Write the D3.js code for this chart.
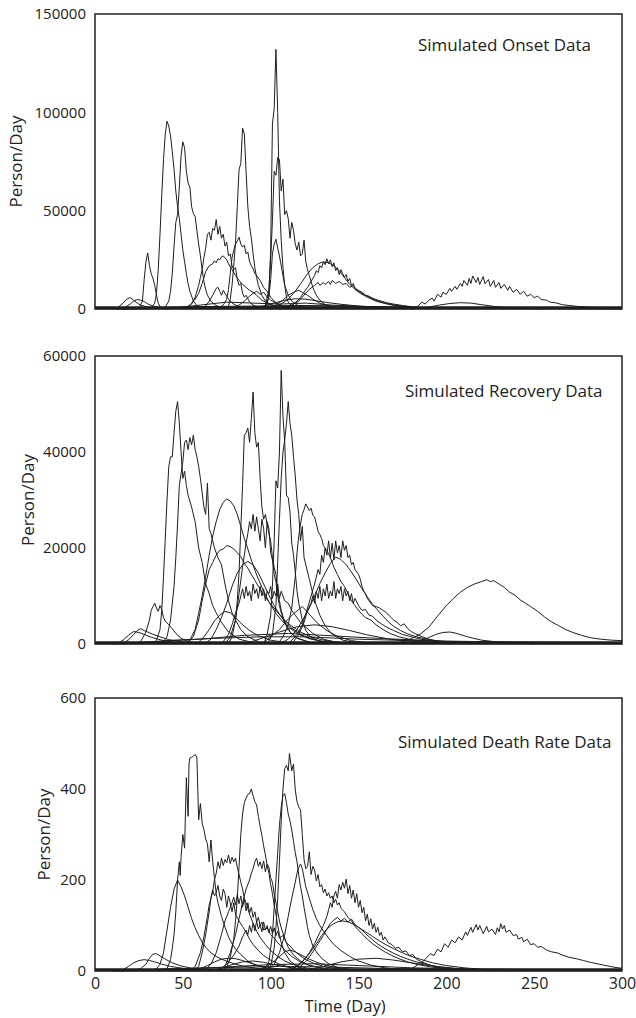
<!DOCTYPE html>
<html>
<head>
<meta charset="utf-8">
<script src="https://cdn.jsdelivr.net/npm/d3@7"></script>
<style>
  body { margin: 0; background: #fff; }
  svg { display: block; }
  text { font-family: "Open Sans", "Noto Sans", sans-serif; fill: #222; }
</style>
</head>
<body>
<div id="chart"></div>
<script>
// ---- data: [day, persons/day] ----
var dayTicks = [0, 50, 100, 150, 200, 250, 300];
var onsetTicks = [0, 50000, 100000, 150000];
var recoveryTicks = [0, 20000, 40000, 60000];
var deathTicks = [0, 200, 400, 600];

// Onset
var onsetA = [[22,0],[25,500],[27,4000],[28,15000],[29,24000],[30,28500],[31,22000],[32,18000],[33,15500],[34,12000],[35,7000],[36,3000],[37,1200],[39,300],[42,0]];
var onsetB = [[30,0],[32,500],[34,3000],[35,8000],[36,20000],[37,38000],[38,58000],[39,76000],[40,89000],[41,95500],[42,93000],[43,88000],[44,80000],[45,71000],[46,60000],[47,52000],[48,46000],[49,38000],[50,30000],[51,24000],[52,18000],[53,13000],[54,9000],[56,4000],[58,1800],[61,700],[65,200]];
var onsetC = [[38,0],[40,1000],[42,4000],[43,9000],[44,18000],[45,32000],[46,44000],[47,48000],[48,62000],[49,78000],[50,85000],[51,82000],[52,70000],[53,64000],[54,62000],[55,52000],[56,48500],[57,47000],[58,40000],[59,33000],[60,27000],[61,20000],[62,14000],[63,10000],[64,7000],[66,4000],[68,2200],[71,1000],[75,300]];
var onsetG = [[52,0],[55,2500],[57,6000],[59,12000],[60,16000],[61,20000],[62,26000],[63,31000],[64,38000],[65,39000],[66,35000],[67,41000],[68,40000],[69,45500],[70,38000],[71,42000],[72,36000],[73,38000],[74,32000],[75,34000],[76,27000],[77,28000],[78,22000],[79,20000],[80,21000],[81,15000],[82,12000],[83,13000],[84,8000],[85,6000],[86,7000],[88,3500],[90,2000],[93,900],[97,300]];
var onsetH = [[50,0],[54,2000],[57,5000],[59,8000],[61,13000],[63,19000],[65,22000],[67,23000],[68,24500],[69,23500],[70,25500],[71,25000],[72,26500],[73,27000],[74,26000],[75,25000],[76,23000],[77,21500],[78,20000],[80,17000],[82,14500],[84,12500],[86,11000],[88,9500],[90,8500],[92,7000],[95,4500],[98,3000],[102,1700],[108,600],[115,150]];
var onsetI = [[70,0],[73,2000],[75,5000],[76,10000],[77,18000],[78,26000],[79,30000],[80,33000],[81,34500],[82,36500],[83,33000],[84,31500],[85,32500],[86,28000],[87,29000],[88,24000],[89,22000],[90,20500],[91,18000],[92,17000],[94,14500],[96,11000],[98,9000],[100,6000],[102,4000],[105,2000],[110,600]];
var onsetD = [[74,0],[76,1500],[77,5000],[78,12000],[79,22000],[80,34000],[81,52000],[82,71000],[83,74000],[84,92000],[85,89000],[86,70000],[87,52000],[88,42000],[89,36000],[90,28000],[91,21000],[92,16000],[93,12000],[95,7000],[97,4000],[100,2200],[104,1000],[110,200]];
var onsetE = [[96,0],[98,2000],[99,8000],[100,30000],[101,94000],[102,102000],[103,132000],[104,100000],[105,55000],[106,35000],[107,21000],[108,12000],[109,6000],[110,3500],[112,1500],[116,400]];
var onsetF = [[95,0],[97,2000],[99,10000],[100,25000],[101,45000],[102,70000],[103,68000],[104,77000],[105,76000],[106,60000],[107,66000],[108,48000],[109,50000],[110,46000],[111,36000],[112,44000],[113,40000],[114,33000],[115,30000],[116,34000],[117,27000],[118,28000],[119,35000],[120,24000],[121,20000],[122,17000],[124,11000],[126,7000],[128,4500],[131,2200],[135,800],[140,200]];
var onsetJ = [[94,0],[97,1500],[99,6000],[100,15000],[101,28000],[102,33000],[103,35500],[104,31000],[105,27000],[106,22000],[107,17000],[108,12000],[110,7000],[112,4000],[115,2000],[120,500]];
var onsetL = [[100,0],[105,2000],[110,5000],[114,9000],[118,14000],[121,18000],[124,21000],[127,23000],[130,24000],[133,23500],[136,22000],[139,19500],[142,16000],[145,12500],[148,10000],[151,8000],[155,6000],[160,4000],[165,2800],[170,1800],[178,800],[190,200]];
var onsetM = [[108,0],[112,2000],[115,4000],[117,6000],[119,8500],[121,11000],[123,14000],[125,17000],[126,19500],[127,18500],[128,22000],[129,21000],[130,24000],[131,22500],[132,25500],[133,23000],[134,25000],[135,21500],[136,23500],[137,19500],[138,21000],[139,17500],[140,20000],[141,18000],[142,16000],[143,17500],[144,14000],[145,15500],[146,12000],[147,13000],[148,10500],[150,9500],[152,8500],[154,7000],[156,6500],[158,5500],[160,4800],[163,4000],[166,3200],[170,2500],[175,1800],[180,1200],[186,700],[195,300]];
var onsetN = [[105,0],[112,2000],[116,4000],[119,7000],[122,10000],[125,12000],[127,13500],[128,12000],[130,13500],[131,12500],[133,14000],[134,12500],[135,14500],[137,13000],[139,14000],[141,12500],[143,13000],[145,11000],[147,12000],[149,9500],[151,8500],[154,7000],[157,5500],[161,4000],[166,2800],[172,1800],[180,900],[190,300]];
var onsetO = [[180,0],[184,1500],[186,3500],[188,2500],[190,4500],[192,5500],[193,4000],[195,7500],[197,6000],[198,8500],[200,7500],[202,10500],[203,9000],[205,11500],[206,10000],[208,13000],[209,11500],[210,14500],[212,12000],[213,15500],[214,13000],[215,16800],[217,13500],[218,16000],[219,12500],[221,16500],[222,12800],[224,15000],[225,11500],[227,14500],[228,11000],[230,13500],[231,10500],[233,12500],[235,9500],[236,11500],[238,8500],[240,10000],[242,7500],[244,9000],[246,6500],[248,7500],[250,5800],[252,6500],[254,4800],[257,4500],[259,3500],[262,3200],[266,2200],[270,1800],[275,1300],[280,1000],[288,700],[300,500]];
var onsetP = [[180,0],[190,1000],[196,2000],[202,2800],[208,3200],[214,3000],[220,2200],[228,1200],[240,400],[255,0]];
var onsetQ = [[10,0],[13,800],[16,3000],[18,5000],[20,5800],[22,4500],[24,3000],[26,2000],[29,1200],[33,600],[40,200]];
var onsetR = [[14,0],[17,800],[20,2500],[22,4000],[24,4800],[26,4500],[28,3800],[30,2600],[33,1500],[37,700],[45,200]];
var onsetS = [[60,0],[63,1500],[65,4000],[67,7000],[69,10500],[70,11000],[71,9000],[72,7000],[73,9500],[74,8000],[76,5000],[78,3000],[81,1500],[86,500]];
var onsetT = [[78,0],[82,2000],[85,4000],[88,6500],[90,8000],[92,9000],[94,7500],[96,8500],[98,6000],[100,4500],[103,3000],[107,1500],[113,500]];
var onsetU = [[98,0],[103,2000],[107,4500],[110,7000],[113,8500],[116,9500],[118,8500],[121,7000],[124,5000],[128,3000],[133,1500],[140,500]];
var onsetV = [[90,0],[96,1500],[102,3000],[108,4500],[114,5200],[120,5000],[126,4200],[132,3300],[140,2400],[150,1500],[165,700],[185,200]];
var onsetW = [[12,0],[30,600],[60,1200],[90,1500],[120,1800],[150,1200],[180,800],[220,500],[260,300],[300,200]];
var onsetX = [[15,0],[40,300],[80,900],[110,1400],[140,1600],[170,1000],[200,600],[250,400],[300,300]];
var onsetY = [[40,0],[60,2000],[75,3500],[90,3000],[105,2500],[120,3000],[135,2000],[160,900],[200,300],[300,100]];

// Recovery
var recA = [[22,0],[26,500],[29,2500],[31,5000],[32,7000],[33,7800],[34,8500],[35,7500],[36,6800],[37,8000],[38,7200],[39,5500],[40,4800],[42,4000],[44,3200],[46,2200],[49,1200],[53,500],[60,100]];
var recB = [[33,0],[35,800],[37,3000],[38,7000],[39,14000],[40,22000],[41,30000],[42,37000],[43,39000],[44,39000],[45,44000],[46,48500],[47,50500],[48,46000],[49,40000],[50,34500],[51,36000],[52,33000],[53,31000],[55,28500],[57,25500],[59,20000],[61,17000],[63,12500],[65,10500],[67,8000],[69,6500],[72,4500],[76,2500],[82,1000],[90,300]];
var recC = [[38,0],[41,1500],[43,5000],[45,12000],[46,18000],[47,25000],[48,33000],[49,35500],[50,38000],[51,42000],[52,42500],[53,40500],[54,43000],[55,41500],[56,43500],[57,40500],[58,39000],[59,37000],[60,34500],[61,31500],[62,28500],[63,27000],[64,33500],[65,24000],[66,23000],[67,21500],[68,20000],[70,18000],[72,16500],[74,12500],[76,9000],[78,6500],[80,5000],[83,3000],[87,1500],[93,500]];
var recD = [[50,0],[54,800],[57,3000],[59,6400],[61,10000],[63,14000],[65,18500],[67,22500],[69,25500],[71,28000],[73,29500],[75,30200],[77,29800],[79,28800],[81,27000],[83,24500],[85,22000],[87,19800],[89,17500],[91,15400],[93,13500],[96,11000],[99,8800],[103,6400],[107,4600],[111,3300],[116,2000],[122,1100],[130,500],[140,150]];
var recE = [[52,0],[56,1500],[59,5000],[61,9000],[63,12500],[65,15500],[67,17000],[69,18500],[71,19500],[73,19800],[75,20500],[77,20300],[79,19800],[81,19000],[83,18200],[85,16800],[87,15800],[89,14500],[91,13300],[93,12000],[96,10300],[99,8800],[103,7000],[107,5300],[111,4000],[116,2700],[122,1600],[130,800],[140,300]];
var recF = [[62,0],[66,1000],[69,3000],[72,5500],[75,8500],[78,12000],[81,14800],[84,16500],[87,17200],[90,16500],[93,14800],[96,12500],[99,10200],[102,8000],[105,6200],[108,4700],[112,3300],[117,2000],[123,1100],[130,500],[140,150]];
var recG = [[72,0],[76,2000],[78,4000],[80,6500],[82,8500],[83,10000],[84,11500],[85,9500],[86,12000],[87,10000],[88,11000],[89,9000],[90,12500],[91,10500],[92,11500],[93,9500],[94,12000],[95,10000],[96,11500],[97,9000],[98,11000],[99,10500],[100,12000],[101,9500],[102,11000],[103,10000],[104,12500],[105,9500],[106,11000],[107,10000],[108,9000],[110,8500],[112,7000],[114,6000],[117,4500],[120,3500],[124,2200],[130,1000],[138,300]];
var recH = [[76,0],[78,1500],[80,5000],[81,9000],[82,15000],[83,24000],[84,33000],[85,43500],[86,44000],[87,45000],[88,42000],[89,47000],[90,52500],[91,44000],[92,41000],[93,42000],[94,34500],[95,28500],[96,26000],[97,27000],[98,25000],[99,23000],[100,21500],[101,18000],[102,16000],[103,14500],[104,11000],[105,9000],[106,7000],[108,4500],[111,2500],[115,1200],[122,400]];
var recI = [[74,0],[77,1500],[80,5000],[82,10500],[84,16000],[86,21000],[87,23000],[88,25500],[89,24000],[90,27000],[91,23500],[92,26500],[93,24000],[94,21500],[95,26000],[96,24000],[97,20000],[98,25500],[99,24000],[100,19000],[101,17500],[102,14500],[103,13000],[104,10000],[105,8000],[106,6500],[108,4300],[111,2500],[115,1200],[122,400]];
var recJ = [[96,0],[98,2000],[100,6000],[101,12000],[102,21500],[103,34000],[104,32500],[105,40000],[106,57000],[107,47500],[108,42000],[109,31000],[110,30500],[111,27500],[112,21000],[113,18500],[114,15000],[115,11000],[116,8500],[118,5000],[120,2800],[123,1400],[128,500],[135,100]];
var recK = [[98,0],[101,2000],[103,8000],[104,17000],[105,26000],[106,34500],[107,40000],[108,42500],[109,46000],[110,50500],[111,46000],[112,43500],[113,39000],[114,35000],[115,30000],[116,27000],[117,21500],[118,24500],[119,18000],[120,16500],[121,15000],[122,13500],[124,10500],[126,8000],[128,6000],[131,3800],[135,2000],[141,800],[150,200]];
var recL = [[104,0],[107,1500],[110,4000],[112,7500],[114,14000],[115,19000],[116,22500],[117,25000],[118,27000],[119,28000],[120,29200],[121,28500],[122,27800],[123,28300],[124,26800],[125,26500],[126,25000],[127,23500],[128,22800],[129,22000],[130,20500],[132,19500],[134,18000],[136,16000],[138,14500],[140,13000],[142,12000],[144,10500],[146,9000],[148,8000],[150,7000],[152,6200],[154,5500],[157,5000],[160,4000],[164,3000],[168,2200],[173,1500],[180,900],[190,400],[200,150]];
var recM = [[110,0],[115,2000],[118,4000],[121,7500],[123,10000],[125,12500],[127,15500],[128,14500],[129,18500],[130,17000],[131,20000],[132,18500],[133,21500],[134,18000],[135,21000],[136,17500],[137,21500],[138,19000],[139,20500],[140,18000],[141,21500],[142,19500],[143,20500],[144,18000],[145,18500],[146,16500],[147,17000],[148,15500],[149,15000],[150,14500],[151,13500],[152,12000],[153,11000],[154,10500],[155,9500],[156,9000],[158,8000],[160,7800],[162,7500],[164,7000],[166,6500],[168,5700],[170,5000],[172,4500],[174,3800],[176,4200],[178,3200],[180,2600],[182,2200],[185,1700],[190,1000],[198,400],[210,100]];
var recN = [[105,0],[110,1000],[115,3000],[119,5500],[122,7500],[125,10000],[128,12600],[131,14800],[134,16800],[137,18100],[140,17600],[143,16500],[146,15000],[149,13300],[152,11500],[155,9800],[158,8300],[161,7000],[164,5800],[167,4600],[170,3700],[174,2800],[178,2100],[183,1500],[190,900],[200,400],[215,100]];
var recO = [[112,0],[116,2000],[119,4500],[121,7000],[123,8500],[124,10000],[125,8500],[126,11000],[127,9500],[128,12000],[129,9000],[130,11500],[131,10000],[132,12500],[133,9500],[134,11000],[135,10000],[136,13000],[137,9500],[138,11500],[139,10500],[140,12000],[141,9000],[142,11500],[143,10000],[144,11000],[145,9000],[146,10500],[147,8500],[148,9500],[150,8000],[152,7000],[154,7200],[156,6000],[158,5800],[160,5000],[163,4200],[166,3500],[170,2800],[175,2000],[180,1500],[188,800],[198,300]];
var recP = [[170,0],[178,800],[185,2000],[190,3500],[195,5800],[200,8000],[204,9500],[208,10800],[212,11800],[216,12500],[220,13000],[223,13400],[225,13000],[227,13200],[230,12500],[233,11800],[236,10800],[239,10200],[242,9200],[245,8500],[248,7800],[252,6800],[256,5600],[260,4600],[264,3800],[268,3000],[272,2400],[277,1800],[282,1300],[288,1000],[294,800],[300,700]];
var recQ = [[180,0],[188,1000],[194,2000],[198,2400],[202,2500],[206,2200],[212,1500],[220,800],[232,300],[250,0]];
var recR = [[15,0],[19,800],[22,2000],[24,2800],[26,3200],[28,2800],[30,2500],[33,2000],[37,1500],[42,900],[50,400],[60,100]];
var recS = [[12,0],[16,800],[19,1800],[22,2600],[25,2400],[28,2000],[32,1400],[38,800],[46,300]];
var recT = [[58,0],[62,1500],[65,3000],[68,4800],[71,6000],[74,6800],[77,6500],[80,5500],[84,4000],[88,2800],[93,1700],[100,800],[110,200]];
var recU = [[95,0],[100,1500],[105,3000],[109,4800],[113,6300],[116,7200],[118,7800],[120,7000],[123,5800],[127,4200],[132,2800],[138,1600],[146,700],[156,200]];
var recV = [[85,0],[95,1200],[105,2500],[115,3600],[125,4000],[135,3600],[145,2800],[155,1900],[168,1000],[185,400],[200,100]];
var recW = [[10,0],[25,300],[45,800],[70,1200],[95,1500],[120,1500],[150,1000],[180,700],[220,400],[260,300],[300,250]];
var recX = [[15,0],[35,500],[60,1000],[85,1800],[110,2200],[135,1700],[165,1100],[200,600],[240,400],[300,300]];

// Death rate
var deathA = [[32,0],[35,5],[37,15],[39,40],[41,90],[43,140],[45,180],[47,200],[49,185],[51,165],[53,140],[55,115],[57,95],[59,78],[61,63],[63,52],[66,40],[69,32],[72,26],[76,20],[80,15],[85,10],[92,6],[100,3],[110,1]];
var deathB = [[38,0],[41,5],[43,25],[44,50],[45,80],[46,130],[47,200],[48,240],[48.5,210],[49,250],[50,300],[51,270],[52,425],[53,340],[53.5,455],[54,468],[55,470],[56,472],[57,476],[58,470],[59,332],[60,368],[61,325],[62,311],[63,290],[64,280],[65,240],[66,288],[67,240],[68,205],[69,170],[70,150],[72,120],[74,96],[76,75],[78,60],[80,48],[83,36],[87,22],[92,12],[98,6],[106,2]];
var deathC = [[56,0],[59,10],[61,40],[63,80],[65,130],[66,160],[67,175],[68,200],[69,215],[70,240],[71,225],[72,248],[73,232],[74,245],[75,238],[76,255],[77,236],[78,250],[79,240],[80,248],[81,228],[82,212],[83,195],[84,180],[85,160],[86,150],[88,125],[90,105],[92,88],[94,74],[97,58],[100,45],[104,32],[108,22],[113,14],[120,7],[130,2]];
var deathD = [[54,0],[57,10],[60,40],[62,75],[64,120],[65,145],[66,160],[67,178],[68,165],[69,172],[70,188],[71,165],[72,155],[73,180],[74,170],[75,140],[76,165],[77,150],[78,130],[79,150],[80,125],[82,110],[84,98],[86,85],[88,70],[90,58],[93,45],[96,34],[100,24],[105,15],[112,7],[120,3]];
var deathE = [[72,0],[75,8],[77,30],[79,70],[80,110],[81,160],[82,230],[83,300],[84,345],[85,370],[86,380],[87,388],[88,390],[89,400],[90,385],[91,372],[92,365],[93,340],[94,318],[95,298],[96,275],[97,255],[98,232],[99,215],[100,190],[101,170],[102,145],[103,125],[104,100],[105,80],[106,62],[108,40],[111,22],[115,10],[120,4]];
var deathF = [[70,0],[74,10],[77,40],[80,80],[82,115],[84,150],[86,180],[88,200],[89,215],[90,225],[91,240],[92,248],[93,230],[94,240],[95,225],[96,242],[97,218],[98,235],[99,228],[100,205],[101,195],[102,170],[103,150],[104,130],[105,110],[106,95],[108,72],[110,52],[113,35],[117,22],[122,12],[130,5]];
var deathG = [[62,0],[66,15],[69,40],[72,80],[74,110],[76,130],[78,150],[79,162],[80,145],[81,168],[82,148],[83,165],[84,140],[85,158],[86,132],[87,150],[88,128],[89,140],[90,118],[91,130],[92,108],[93,118],[94,100],[95,108],[96,90],[98,95],[100,80],[102,72],[104,62],[106,55],[109,42],[112,32],[116,22],[121,14],[128,7],[138,2]];
var deathH = [[70,0],[75,15],[79,35],[82,55],[84,75],[86,90],[87,80],[88,100],[89,85],[90,105],[91,88],[92,110],[93,92],[94,102],[95,86],[96,108],[97,90],[98,100],[99,84],[100,98],[101,82],[102,95],[103,78],[104,88],[105,72],[107,78],[109,62],[111,55],[113,46],[116,36],[120,25],[125,16],[132,8],[142,3]];
var deathI = [[97,0],[100,10],[102,50],[103,96],[104,160],[105,240],[106,330],[107,400],[108,445],[109,452],[110,440],[110.7,478],[112,440],[113,455],[114,398],[115,372],[116,360],[117,355],[118,300],[119,245],[120,225],[121,230],[122,262],[123,212],[124,230],[125,222],[126,198],[127,212],[128,185],[129,190],[130,172],[131,180],[132,165],[133,172],[134,160],[135,165],[136,150],[137,158],[138,145],[139,150],[140,138],[142,130],[144,118],[146,110],[148,98],[150,90],[152,82],[155,70],[158,60],[161,52],[165,42],[169,34],[173,27],[178,20],[184,14],[191,9],[200,5],[210,2]];
var deathJ = [[96,0],[99,20],[101,80],[102,140],[103,200],[104,260],[105,320],[106,360],[107,385],[108,390],[109,370],[110,345],[111,330],[112,310],[113,285],[114,260],[115,240],[116,210],[117,185],[118,165],[119,140],[120,118],[121,96],[122,78],[124,55],[126,42],[129,28],[133,16],[138,8],[145,3]];
var deathK = [[98,0],[102,15],[105,40],[108,80],[110,120],[112,160],[114,195],[115,215],[116,228],[117,235],[118,225],[119,205],[120,185],[122,160],[124,135],[126,115],[128,100],[130,88],[133,72],[136,58],[140,45],[145,32],[150,22],[157,13],[165,7],[175,3]];
var deathL = [[110,0],[115,10],[119,25],[122,40],[125,60],[128,85],[130,100],[132,120],[133,135],[134,150],[135,140],[136,165],[137,175],[138,160],[139,190],[140,178],[141,195],[142,182],[143,202],[144,170],[145,188],[146,160],[147,178],[148,150],[149,170],[150,140],[151,155],[152,128],[153,140],[154,110],[155,125],[156,100],[157,115],[158,92],[159,105],[160,85],[161,96],[162,78],[163,85],[164,68],[165,75],[167,62],[169,58],[171,50],[173,52],[175,42],[177,44],[179,34],[181,36],[183,26],[186,20],[190,14],[195,8],[202,4]];
var deathM = [[112,0],[117,10],[121,25],[124,42],[127,60],[130,78],[132,92],[134,105],[136,112],[138,118],[140,110],[142,116],[144,108],[146,114],[148,102],[150,96],[152,90],[154,82],[157,72],[160,62],[163,54],[166,47],[170,39],[174,32],[178,26],[183,20],[189,14],[196,9],[205,5],[215,2]];
var deathN = [[108,0],[114,8],[118,20],[122,38],[126,60],[129,78],[132,92],[135,102],[138,108],[141,110],[144,108],[147,103],[150,96],[154,86],[158,76],[162,66],[166,57],[170,49],[175,40],[180,32],[186,25],[192,18],[200,12],[210,7],[222,3],[235,1]];
var deathO = [[175,0],[180,5],[184,14],[187,22],[189,30],[191,38],[193,34],[195,48],[197,42],[199,60],[201,52],[203,68],[205,62],[207,75],[209,68],[211,86],[212,78],[214,96],[215,85],[217,102],[218,90],[219,100],[221,82],[223,98],[224,86],[226,92],[228,80],[229,95],[230,86],[231,104],[232,92],[233,100],[234,85],[236,90],[238,78],[240,80],[241,70],[243,74],[244,64],[246,70],[248,58],[250,60],[252,52],[254,54],[257,46],[260,42],[263,40],[266,35],[270,30],[274,27],[278,23],[282,19],[287,15],[292,11],[296,8],[300,6]];
var deathP = [[12,0],[16,3],[19,10],[22,18],[25,23],[28,25],[31,23],[34,20],[38,15],[43,10],[50,6],[58,3],[68,1]];
var deathQ = [[22,0],[26,5],[29,15],[31,28],[33,37],[35,38],[37,33],[40,26],[44,18],[49,11],[55,6],[63,3],[72,1]];
var deathR = [[55,0],[60,5],[64,12],[68,20],[72,26],[76,28],[80,27],[84,23],[88,18],[93,12],[100,7],[108,3]];
var deathS = [[92,0],[97,8],[101,18],[105,32],[108,42],[111,46],[114,42],[118,34],[122,26],[127,18],[133,11],[140,6],[150,2]];
var deathT = [[10,0],[30,3],[55,6],[80,8],[105,10],[130,9],[160,6],[195,4],[240,3],[300,2]];
var deathU = [[15,0],[40,4],[70,8],[100,14],[125,16],[150,12],[180,7],[220,4],[260,3],[300,3]];
var deathV = [[65,0],[72,6],[78,14],[84,20],[90,22],[96,19],[103,13],[112,7],[122,3]];
var deathW = [[120,0],[130,10],[140,20],[150,26],[160,28],[170,24],[180,18],[192,11],[205,6],[220,2]];

var onsetSeries = [onsetA, onsetB, onsetC, onsetG, onsetH, onsetI, onsetD, onsetE, onsetF, onsetJ, onsetL, onsetM, onsetN, onsetO, onsetP, onsetQ, onsetR, onsetS, onsetT, onsetU, onsetV, onsetW, onsetX, onsetY];
var recoverySeries = [recA, recB, recC, recD, recE, recF, recG, recH, recI, recJ, recK, recL, recM, recN, recO, recP, recQ, recR, recS, recT, recU, recV, recW, recX];
var deathSeries = [deathA, deathB, deathC, deathD, deathE, deathF, deathG, deathH, deathI, deathJ, deathK, deathL, deathM, deathN, deathO, deathP, deathQ, deathR, deathS, deathT, deathU, deathV, deathW];

// ---- layout ----
var width = 636, height = 1018;
var plotLeft = 95, plotRight = 622;

var panels = [
	{title: "Simulated Onset Data", series: onsetSeries, ticks: onsetTicks, top: 14, bottom: 309, titleX: 418, titleY: 44, labelX: 15},
	{title: "Simulated Recovery Data", series: recoverySeries, ticks: recoveryTicks, top: 356, bottom: 644, titleX: 405, titleY: 390, labelX: 27},
	{title: "Simulated Death Rate Data", series: deathSeries, ticks: deathTicks, top: 698, bottom: 971, titleX: 398, titleY: 741, labelX: 43}
];

var svg = d3.select("#chart").append("svg")
	.attr("width", width)
	.attr("height", height);

var x = d3.scaleLinear().domain([0, 300]).range([plotLeft, plotRight]);

panels.forEach(function(p, i) {
	var y = d3.scaleLinear()
		.domain([0, d3.max(p.ticks)])
		.range([p.bottom, p.top]);

	var g = svg.append("g");

	var line = d3.line()
		.x(function(d) { return x(d[0]); })
		.y(function(d) { return y(d[1]); });

	g.selectAll(".curve")
		.data(p.series)
		.enter().append("path")
		.attr("class", "curve")
		.attr("d", line)
		.attr("fill", "none")
		.attr("stroke", "#1e1e1e")
		.attr("stroke-width", 1)
		.attr("stroke-linejoin", "round");

	// frame around the plot
	g.append("rect")
		.attr("x", plotLeft)
		.attr("y", p.top)
		.attr("width", plotRight - plotLeft)
		.attr("height", p.bottom - p.top)
		.attr("fill", "none")
		.attr("stroke", "#222")
		.attr("stroke-width", 1.5);

	// thick floor where all the curves sit at zero
	g.append("line")
		.attr("x1", plotLeft).attr("x2", plotRight)
		.attr("y1", p.bottom - 1.2).attr("y2", p.bottom - 1.2)
		.attr("stroke", "#1e1e1e")
		.attr("stroke-width", 3);

	var yAxis = d3.axisLeft(y)
		.tickValues(p.ticks)
		.tickSize(0)
		.tickPadding(9)
		.tickFormat(d3.format("d"));

	var ax = g.append("g")
		.attr("transform", "translate(" + plotLeft + ",0)")
		.call(yAxis);
	ax.select(".domain").remove();
	ax.selectAll("text")
		.style("font-family", '"Open Sans", sans-serif')
		.style("font-size", "15px")
		.style("fill", "#222");

	g.append("text")
		.attr("transform", "translate(" + p.labelX + "," + ((p.top + p.bottom) / 2) + ") rotate(-90)")
		.attr("text-anchor", "middle")
		.attr("dominant-baseline", "central")
		.style("font-size", "17px")
		.text("Person/Day");

	g.append("text")
		.attr("x", p.titleX)
		.attr("y", p.titleY)
		.attr("dominant-baseline", "central")
		.style("font-size", "17px")
		.text(p.title);

	if (i == panels.length - 1) {
		var xAxis = d3.axisBottom(x)
			.tickValues(dayTicks)
			.tickSize(0)
			.tickPadding(7);
		var bx = g.append("g")
			.attr("transform", "translate(0," + p.bottom + ")")
			.call(xAxis);
		bx.select(".domain").remove();
		bx.selectAll("text")
			.style("font-family", '"Open Sans", sans-serif')
			.style("font-size", "16px")
			.style("fill", "#222");

		g.append("text")
			.attr("x", 345)
			.attr("y", 1005)
			.attr("text-anchor", "middle")
			.attr("dominant-baseline", "central")
			.style("font-size", "16.5px")
			.text("Time (Day)");
	}
});
</script>
</body>
</html>
